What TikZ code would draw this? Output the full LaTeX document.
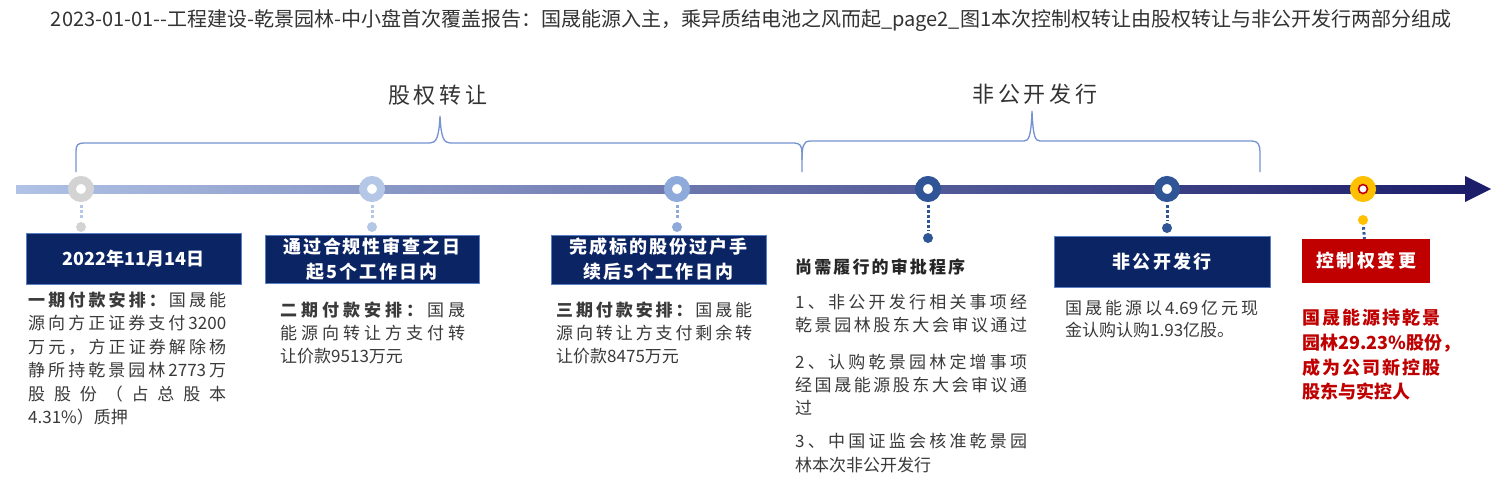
\documentclass[tikz,border=0pt]{standalone}
\usepackage{fontspec}
\usepackage{graphicx}
\setmainfont{Noto Sans CJK SC}
\definecolor{navy}{HTML}{0B2463}
\definecolor{navyedge}{HTML}{5B7FC4}
\definecolor{redbox}{HTML}{C00000}
\definecolor{bodytxt}{HTML}{3A3A3A}
\definecolor{titletxt}{HTML}{333333}
\definecolor{bracec}{HTML}{7592D0}
\definecolor{cgrey}{HTML}{D3D3D3}
\definecolor{cl1}{HTML}{B4C7E7}
\definecolor{cl2}{HTML}{8EAADB}
\definecolor{cdark}{HTML}{2F5597}
\definecolor{cgold}{HTML}{FFC000}
\definecolor{lineL}{HTML}{B0C2E6}
\definecolor{lineM}{HTML}{5662AA}
\definecolor{lineR}{HTML}{1C1E6A}
\newcommand\jline[2]{\makebox[#1][s]{\spaceskip=0pt plus 1fil\xspaceskip=0pt plus 1fil #2}}
\newcommand\BB{\bfseries}
\newcommand\NN{\mdseries}
\begin{document}
\begin{tikzpicture}[x=1pt,y=1pt,
  ring/.style={circle, line width=8pt, fill=white, minimum size=18pt, inner sep=0pt},
  enddot/.style={circle, inner sep=0pt, minimum size=10pt},
  stem/.style={line width=3pt, dash pattern=on 2.5pt off 2.5pt, shorten <=3pt, shorten >=2pt},
  brace/.style={draw=bracec, line width=1.3pt},
  navybox/.style={rectangle, fill=navy, draw=navyedge, line width=0.8pt, text=white, inner sep=0pt,
     font=\fontsize{18}{25}\selectfont\bfseries, align=center},
  redbx/.style={rectangle, fill=redbox, text=white, inner sep=0pt,
     font=\fontsize{18}{25}\selectfont\bfseries, align=center},
  body/.style={anchor=west, inner sep=0pt, text=bodytxt, font=\fontsize{17}{17}\selectfont},
  redtxt/.style={anchor=west, inner sep=0pt, text=redbox, font=\fontsize{18}{18}\selectfont\bfseries},
  bracelabel/.style={inner sep=0pt, text=titletxt, font=\fontsize{22}{22}\selectfont}
]
\useasboundingbox[fill=white] (0,0) rectangle (1503,-496);

% title
\node[inner sep=0pt, text=titletxt] (title) at (751,-20) {\resizebox{1400pt}{!}{2023-01-01-{}-工程建设-乾景园林-中小盘首次覆盖报告：国晟能源入主，乘异质结电池之风而起\_page2\_图1本次控制权转让由股权转让与非公开发行两部分组成}};

% braces
\draw[brace] (76,-172) -- (76,-151) .. controls (76,-145) and (78,-143) .. (84,-143) -- (430,-143)
  .. controls (436,-143) and (439,-138) .. (440,-116) .. controls (441,-138) and (444,-143) .. (450,-143)
  -- (794,-143) .. controls (800,-143) and (802,-146) .. (802,-153) -- (802,-172);
\draw[brace] (802,-160) .. controls (802,-147) and (803,-141) .. (810,-141) -- (1024,-141)
  .. controls (1029,-141) and (1031,-136) .. (1032,-111) .. controls (1033,-136) and (1035,-141) .. (1040,-141)
  -- (1252,-141) .. controls (1258,-141) and (1260,-145) .. (1260,-152) -- (1260,-172);
\node[bracelabel] (lab1) at (438,-95) {\jline{100pt}{股 权 转 让}};
\node[bracelabel] (lab2) at (1035,-94) {\jline{125pt}{非 公 开 发 行}};

% timeline
\shade[left color=lineL, middle color=lineM, right color=lineR] (16,-185) rectangle (1467,-193);
\fill[lineR] (1465,-176) -- (1491,-189) -- (1465,-202) -- cycle;

% circles
\node[ring, draw=cgrey] (c1) at (81,-189) {};
\node[ring, draw=cl1] (c2) at (372,-189) {};
\node[ring, draw=cl2] (c3) at (677,-189) {};
\node[ring, draw=cdark] (c4) at (928,-189) {};
\node[ring, draw=cdark] (c5) at (1167,-189) {};
\node[ring, draw=cgold] (c6) at (1363,-189) {};
\node[circle, draw=redbox, line width=1.6pt, fill=white, minimum size=9pt, inner sep=0pt] (c6in) at (c6) {};

% end dots
\node[enddot, fill=cgrey] (d1) at (81,-227) {};
\node[enddot, fill=cl1] (d2) at (372,-227) {};
\node[enddot, fill=cl2] (d3) at (677,-227) {};
\node[enddot, fill=cdark] (d4) at (928,-238) {};
\node[enddot, fill=cdark] (d5) at (1167,-228) {};
\node[enddot, fill=cgold] (d6) at (1363,-220) {};

% boxes
\node[navybox, minimum width=215pt, minimum height=51pt] (b1) at (133.5,-258.5) {2022年11月14日};
\node[navybox, minimum width=214pt, minimum height=48pt] (b2) at (372,-259) {\jline{178pt}{通 过 合 规 性 审 查 之 日}\\\jline{132pt}{起 5 个 工 作 日 内}};
\node[navybox, minimum width=215pt, minimum height=49pt] (b3) at (658.5,-259.5) {\jline{178pt}{完 成 标 的 股 份 过 户 手}\\\jline{150pt}{续 后 5 个 工 作 日 内}};
\node[navybox, minimum width=216pt, minimum height=51pt] (b4) at (1162,-261.5) {\jline{99pt}{非 公 开 发 行}};
\node[redbx, minimum width=128pt, minimum height=44pt] (b5) at (1366,-261) {\jline{100pt}{控 制 权 变 更}};

% stems
\draw[stem, cl1] (c1) -- (d1);
\draw[stem, cl1] (c2) -- (d2);
\draw[stem, cl2] (c3) -- (d3);
\draw[stem, cdark] (c4) -- (d4);
\draw[stem, cdark] (c5) -- (d5);
\draw[stem, cdark, shorten <=2pt, shorten >=0pt] (d6) -- (b5);

% block 1
\node[body] (t11) at (28,-300) {\jline{198pt}{\BB 一 期 付 款 安 排 ： \NN 国 晟 能}};
\node[body] (t12) at (28,-323) {\jline{198pt}{源 向 方 正 证 券 支 付 3200}};
\node[body] (t13) at (28,-347) {\jline{198pt}{万 元 ， 方 正 证 券 解 除 杨}};
\node[body] (t14) at (28,-370) {\jline{198pt}{静 所 持 乾 景 园 林 2773 万}};
\node[body] (t15) at (28,-394) {\jline{198pt}{股 股 份 （ 占 总 股 本}};
\node[body] (t16) at (28,-417) {4.31\%）质押};

% block 2
\node[body] (t21) at (280,-310) {\jline{185pt}{\BB 二 期 付 款 安 排 ： \NN 国 晟}};
\node[body] (t22) at (280,-333) {\jline{185pt}{能 源 向 转 让 方 支 付 转}};
\node[body] (t23) at (280,-356) {让价款9513万元};

% block 3
\node[body] (t31) at (556,-310) {\jline{196pt}{\BB 三 期 付 款 安 排 ： \NN 国 晟 能}};
\node[body] (t32) at (556,-333) {\jline{196pt}{源 向 转 让 方 支 付 剩 余 转}};
\node[body] (t33) at (556,-356) {让价款8475万元};

% block 4
\node[body, text=black!85, font=\fontsize{17}{17}\selectfont\bfseries] (t40) at (795,-267) {\jline{170pt}{尚 需 履 行 的 审 批 程 序}};
\node[body] (t41) at (795,-302) {\jline{232pt}{1 、 非 公 开 发 行 相 关 事 项 经}};
\node[body] (t42) at (795,-325) {\jline{232pt}{乾 景 园 林 股 东 大 会 审 议 通 过}};
\node[body] (t43) at (795,-362) {\jline{232pt}{2 、 认 购 乾 景 园 林 定 增 事 项}};
\node[body] (t44) at (795,-385) {\jline{232pt}{经 国 晟 能 源 股 东 大 会 审 议 通}};
\node[body] (t45) at (795,-408) {过};
\node[body] (t46) at (795,-441) {\jline{232pt}{3 、 中 国 证 监 会 核 准 乾 景 园}};
\node[body] (t47) at (795,-465) {林本次非公开发行};

% block 5
\node[body] (t51) at (1065,-308) {\jline{193pt}{国 晟 能 源 以 4.69 亿 元 现}};
\node[body] (t52) at (1065,-330) {金认购认购1.93亿股。};

% block 6
\node[redtxt] (t61) at (1302,-318) {\jline{138pt}{国 晟 能 源 持 乾 景}};
\node[redtxt] (t62) at (1302,-343) {\jline{146pt}{园 林 29.23\% 股 份 ，}};
\node[redtxt] (t63) at (1302,-368) {\jline{138pt}{成 为 公 司 新 控 股}};
\node[redtxt] (t64) at (1302,-392) {股东与实控人};
\end{tikzpicture}
\end{document}
